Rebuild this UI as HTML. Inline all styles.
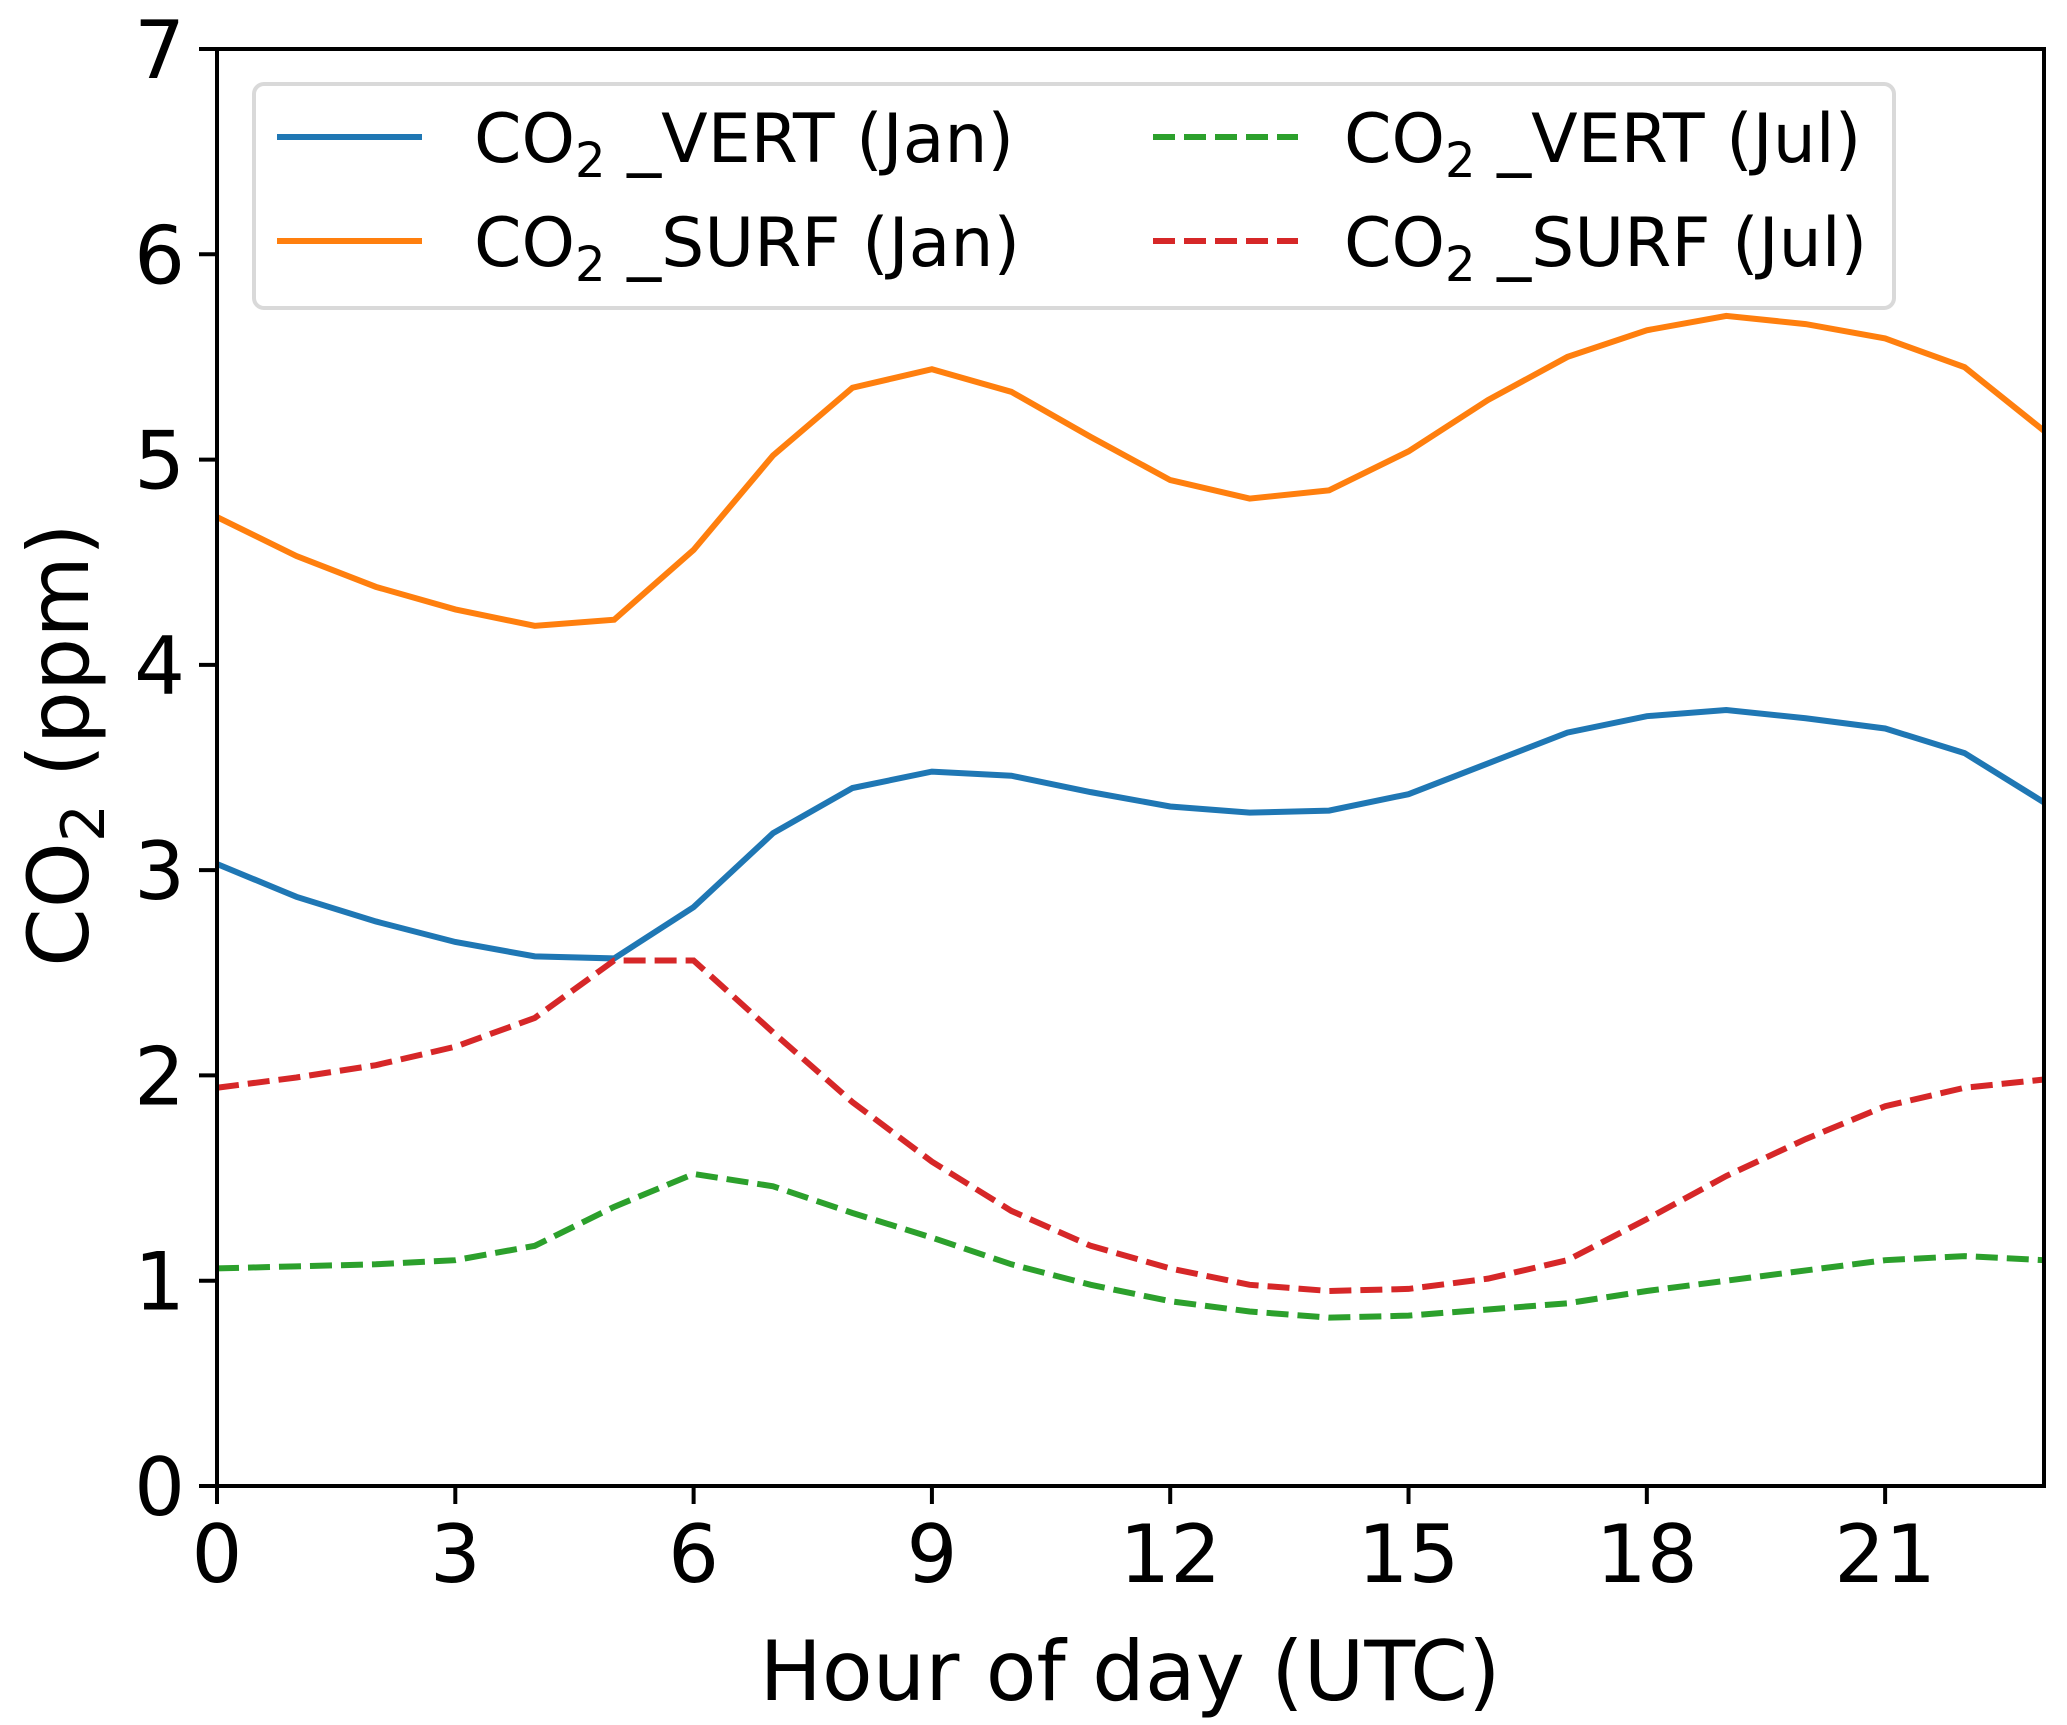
<!DOCTYPE html>
<html><head><meta charset="utf-8"><style>
html,body{margin:0;padding:0;background:#fff}
svg{display:block;font-family:"DejaVu Sans","Liberation Sans",sans-serif}
</style></head><body>
<svg id="chart" width="2067" height="1725" viewBox="0 0 2067 1725" xmlns="http://www.w3.org/2000/svg">
<g id="lines"></g>
<g id="axes"></g>
<g id="legend">
 <rect x="254" y="84" width="1640" height="224" rx="10" fill="#fff" fill-opacity="0.8" stroke="#d9d9d9" stroke-width="4"/>
 <g><line x1="277" y1="137" x2="422" y2="137" stroke="#1f77b4" stroke-width="6"/><text x="474" y="162" font-size="68">CO<tspan font-size="48" dy="15">2</tspan><tspan dy="-15"> _VERT (Jan)</tspan></text></g>
 <g><line x1="277" y1="241" x2="422" y2="241" stroke="#ff7f0e" stroke-width="6"/><text x="474" y="266" font-size="68">CO<tspan font-size="48" dy="15">2</tspan><tspan dy="-15"> _SURF (Jan)</tspan></text></g>
 <g><line x1="1153" y1="137" x2="1298" y2="137" stroke="#2ca02c" stroke-width="6" stroke-dasharray="22,9"/><text x="1344" y="162" font-size="68">CO<tspan font-size="48" dy="15">2</tspan><tspan dy="-15"> _VERT (Jul)</tspan></text></g>
 <g><line x1="1153" y1="241" x2="1298" y2="241" stroke="#d62728" stroke-width="6" stroke-dasharray="22,9"/><text x="1344" y="266" font-size="68">CO<tspan font-size="48" dy="15">2</tspan><tspan dy="-15"> _SURF (Jul)</tspan></text></g>
</g>
<text x="1130" y="1700" font-size="83" text-anchor="middle">Hour of day (UTC)</text>
<text transform="translate(88,745) rotate(-90)" font-size="84" text-anchor="middle">CO<tspan font-size="60" dy="16">2</tspan><tspan dy="-16"> (ppm)</tspan></text>
</svg>
<script>
const hours = [0,1,2,3,4,5,6,7,8,9,10,11,12,13,14,15,16,17,18,19,20,21,22,23];
const vertJan = [3.03,2.87,2.75,2.65,2.58,2.57,2.82,3.18,3.40,3.48,3.46,3.38,3.31,3.28,3.29,3.37,3.52,3.67,3.75,3.78,3.74,3.69,3.57,3.33];
const surfJan = [4.72,4.53,4.38,4.27,4.19,4.22,4.56,5.02,5.35,5.44,5.33,5.11,4.90,4.81,4.85,5.04,5.29,5.50,5.63,5.70,5.66,5.59,5.45,5.14];
const vertJul = [1.06,1.07,1.08,1.10,1.17,1.36,1.52,1.46,1.33,1.21,1.08,0.98,0.90,0.85,0.82,0.83,0.86,0.89,0.95,1.00,1.05,1.10,1.12,1.10];
const surfJul = [1.94,1.99,2.05,2.14,2.28,2.56,2.56,2.21,1.87,1.58,1.34,1.17,1.06,0.98,0.95,0.96,1.01,1.10,1.30,1.51,1.69,1.85,1.94,1.98];
const xTicks = [0,3,6,9,12,15,18,21];
const yTicks = [0,1,2,3,4,5,6,7];

const L=217,R=2044,T=49,B=1486;
const xMin=0,xMax=23,yMin=0,yMax=7;
function sx(v){return L+(v-xMin)/(xMax-xMin)*(R-L);}
function sy(v){return B-(v-yMin)/(yMax-yMin)*(B-T);}
const NS="http://www.w3.org/2000/svg";
const lines=document.getElementById('lines');
function series(vals,color,dash,name){
  const p=document.createElementNS(NS,'polyline');
  p.setAttribute('points',vals.map((v,i)=>sx(hours[i])+','+sy(v)).join(' '));
  p.setAttribute('fill','none');p.setAttribute('stroke',color);p.setAttribute('stroke-width','6');
  if(dash)p.setAttribute('stroke-dasharray','22,9');
  
  
  lines.appendChild(p);
}
series(vertJan,'#1f77b4',false,'line-co2-vert-jan');
series(surfJan,'#ff7f0e',false,'line-co2-surf-jan');
series(vertJul,'#2ca02c',true,'line-co2-vert-jul');
series(surfJul,'#d62728',true,'line-co2-surf-jul');
const axes=document.getElementById('axes');
const frame=document.createElementNS(NS,'rect');
frame.setAttribute('x',L);frame.setAttribute('y',T);frame.setAttribute('width',R-L);frame.setAttribute('height',B-T);
frame.setAttribute('fill','none');frame.setAttribute('stroke','#000');frame.setAttribute('stroke-width','4');


axes.appendChild(frame);
xTicks.forEach(t=>{
  const l=document.createElementNS(NS,'line');
  l.setAttribute('x1',sx(t));l.setAttribute('x2',sx(t));l.setAttribute('y1',B);l.setAttribute('y2',B+18);
  l.setAttribute('stroke','#000');l.setAttribute('stroke-width','4');
  
  
  axes.appendChild(l);
  const tx=document.createElementNS(NS,'text');
  tx.setAttribute('x',sx(t));tx.setAttribute('y',B+96);tx.setAttribute('font-size','80');tx.setAttribute('text-anchor','middle');
  tx.textContent=t;
  
  
  axes.appendChild(tx);
});
yTicks.forEach(t=>{
  const l=document.createElementNS(NS,'line');
  l.setAttribute('x1',L-18);l.setAttribute('x2',L);l.setAttribute('y1',sy(t));l.setAttribute('y2',sy(t));
  l.setAttribute('stroke','#000');l.setAttribute('stroke-width','4');
  
  
  axes.appendChild(l);
  const tx=document.createElementNS(NS,'text');
  tx.setAttribute('x',L-32);tx.setAttribute('y',sy(t)+29);tx.setAttribute('font-size','80');tx.setAttribute('text-anchor','end');
  tx.textContent=t;
  
  
  axes.appendChild(tx);
});
</script>
</body></html>
